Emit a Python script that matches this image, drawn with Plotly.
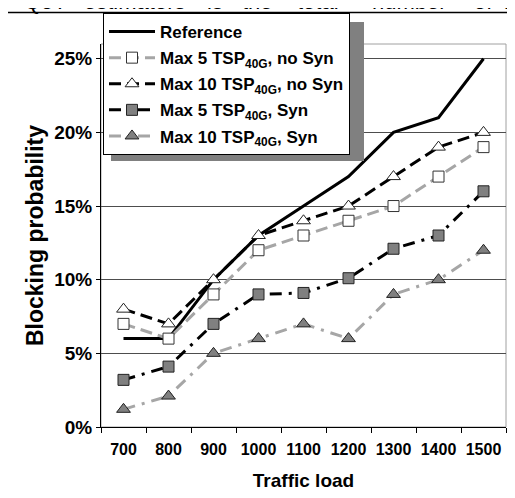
import plotly.graph_objects as go

traffic_load = ["700", "800", "900", "1000", "1100", "1200", "1300", "1400", "1500"]
reference = [0.06, 0.06, 0.10, 0.13, 0.15, 0.17, 0.20, 0.21, 0.25]
max5_nosyn = [0.07, 0.06, 0.09, 0.12, 0.13, 0.14, 0.15, 0.17, 0.19]
max10_nosyn = [0.08, 0.07, 0.10, 0.13, 0.14, 0.15, 0.17, 0.19, 0.20]
max5_syn = [0.032, 0.041, 0.07, 0.09, 0.091, 0.101, 0.121, 0.13, 0.16]
max10_syn = [0.012, 0.021, 0.05, 0.06, 0.07, 0.06, 0.09, 0.10, 0.12]

y_ticks = [0, 0.05, 0.10, 0.15, 0.20, 0.25]
y_tick_labels = ["0%", "5%", "10%", "15%", "20%", "25%"]

top_words = ["QoT", "estimators", "is", "the", "total", "number", "of", "rec"]
top_word_x = [22, 82, 205, 240, 295, 370, 472, 502]

FONT = "Arial, Liberation Sans, sans-serif"

# the page body has an 8px margin; target pixel coords are shifted by it
OFF = 8
W, H = 515 - OFF, 498 - OFF
L, R, T, B = 101 - OFF, 506 - OFF, 44 - OFF, 427 - OFF


def px(x):
    return (x - OFF - L) / (R - L)


def py(y):
    return (B - (y - OFF)) / (B - T)


fig = go.Figure()

fig.add_trace(go.Scatter(
    x=traffic_load, y=reference, name="Reference", mode="lines",
    line=dict(color="black", width=3), legendgroup="a"))
fig.add_trace(go.Scatter(
    x=traffic_load, y=max5_nosyn, name="Max 5 TSP<sub>40G</sub>, no Syn", mode="lines+markers",
    line=dict(color="#a6a6a6", width=3, dash="12px,6px"),
    marker=dict(symbol="square", size=11, color="white", line=dict(color="#333333", width=1)),
    legendgroup="b"))
fig.add_trace(go.Scatter(
    x=traffic_load, y=max10_nosyn, name="Max 10 TSP<sub>40G</sub>, no Syn", mode="lines+markers",
    line=dict(color="black", width=3, dash="12px,6px"),
    marker=dict(symbol="triangle-up", size=12, color="white", line=dict(color="#222222", width=1)),
    legendgroup="c"))
fig.add_trace(go.Scatter(
    x=traffic_load, y=max5_syn, name="Max 5 TSP<sub>40G</sub>, Syn", mode="lines+markers",
    line=dict(color="black", width=3, dash="12px,7px,3px,7px"),
    marker=dict(symbol="square", size=11, color="#808080", line=dict(color="#222222", width=1)),
    legendgroup="d"))
fig.add_trace(go.Scatter(
    x=traffic_load, y=max10_syn, name="Max 10 TSP<sub>40G</sub>, Syn", mode="lines+markers",
    line=dict(color="#a6a6a6", width=3, dash="12px,7px,3px,7px"),
    marker=dict(symbol="triangle-up", size=12, color="#808080", line=dict(color="#222222", width=1)),
    legendgroup="e"))

shapes = [
    # plot area border (light gray)
    dict(type="rect", xref="paper", yref="paper", x0=0, x1=1, y0=0, y1=1,
         line=dict(color="#a0a0a0", width=1), layer="below"),
    # legend shadow
    dict(type="rect", xref="paper", yref="paper", x0=px(111), x1=px(364), y0=py(161), y1=py(22),
         fillcolor="#808080", line=dict(width=0), layer="above"),
    # outer frame
    dict(type="rect", xref="paper", yref="paper", x0=px(7), x1=px(530), y0=py(520), y1=py(12.5),
         line=dict(color="black", width=1.5), layer="above"),
]

annotations = []
for w, xx in zip(top_words, top_word_x):
    annotations.append(dict(
        text=w, xref="paper", yref="paper", x=px(xx), y=py(16), xanchor="left", yanchor="bottom",
        showarrow=False, font=dict(family=FONT, size=22, color="black")))

fig.update_layout(
    width=W, height=H,
    margin=dict(l=L, r=W - R, t=T, b=H - B, pad=0, autoexpand=False),
    paper_bgcolor="white", plot_bgcolor="white",
    font=dict(family=FONT, color="black"),
    showlegend=True,
    legend=dict(
        x=px(103), y=py(13), xanchor="left", yanchor="top",
        bgcolor="white", bordercolor="black", borderwidth=1,
        font=dict(family=FONT, size=17, color="black", weight="bold"),
        tracegroupgap=1, traceorder="grouped", itemwidth=46,
    ),
    xaxis=dict(
        type="category", range=[-0.5, 8.5], tickson="boundaries",
        ticks="outside", ticklen=5, tickcolor="black", tickwidth=1,
        showline=True, linecolor="black", linewidth=1, showgrid=False,
        tickfont=dict(family=FONT, size=16, weight="bold"),
        ticklabelstandoff=8,
        title=dict(text="Traffic load", font=dict(family=FONT, size=19, weight="bold"), standoff=16),
        fixedrange=True,
    ),
    yaxis=dict(
        range=[0, 0.26], tickvals=y_ticks, ticktext=y_tick_labels,
        ticks="outside", ticklen=4, tickcolor="black", tickwidth=1,
        showline=True, linecolor="black", linewidth=1,
        showgrid=True, gridcolor="#4d4d4d", gridwidth=1, zeroline=False,
        tickfont=dict(family=FONT, size=19, weight="bold"),
        title=dict(text="Blocking probability", font=dict(family=FONT, size=23, weight="bold"), standoff=4),
        fixedrange=True,
    ),
    shapes=shapes,
    annotations=annotations,
)

fig.write_html("out.html")
